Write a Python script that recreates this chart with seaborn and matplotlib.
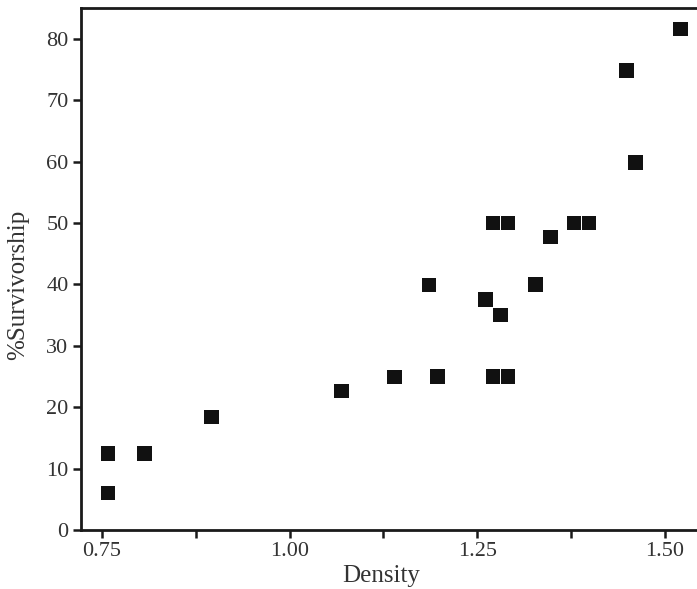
import numpy as np
import pandas as pd
import matplotlib
matplotlib.use("Agg")
import matplotlib.pyplot as plt
import seaborn as sns

# valores
densidade = [0.758, 0.758, 0.807, 0.896, 1.069, 1.140, 1.197, 1.186, 1.261, 1.281,
             1.271, 1.291, 1.271, 1.291, 1.328, 1.348, 1.379, 1.399, 1.449, 1.461, 1.521]
sobrevivencia = [12.5, 6.0, 12.5, 18.4, 22.6, 24.9, 25.0, 39.9, 37.5, 35.0,
                 25.0, 25.0, 50.0, 50.0, 40.0, 47.7, 50.0, 50.0, 74.8, 59.8, 81.6]
x_ticks = [0.75, 0.875, 1.00, 1.125, 1.25, 1.375, 1.50]
x_tick_labels = ["0.75", "", "1.00", "", "1.25", "", "1.50"]
y_ticks = [0, 10, 20, 30, 40, 50, 60, 70, 80]

df = pd.DataFrame({"Density": densidade, "%Survivorship": sobrevivencia})

sns.set_style("ticks")
plt.rcParams["font.family"] = ["Liberation Serif", "DejaVu Serif"]

fig = plt.figure(figsize=(6.97, 5.89), dpi=100)
ax = fig.add_axes([0.1162, 0.1002, 0.8838, 0.8862])

sns.scatterplot(data=df, x="Density", y="%Survivorship", ax=ax,
                marker="s", s=110, color="#111111", edgecolor="none")

ax.set_xlim(0.722, 1.543)
ax.set_ylim(0, 85)
ax.set_xticks(x_ticks)
ax.set_xticklabels(x_tick_labels)
ax.set_yticks(y_ticks)

for lado in ["left", "bottom", "top"]:
    ax.spines[lado].set_linewidth(2)
    ax.spines[lado].set_color("#1a1a1a")
ax.spines["right"].set_visible(False)

ax.tick_params(axis="both", direction="out", length=6, width=1.8,
               color="#1a1a1a", labelsize=16, labelcolor="#333333", pad=3)

ax.set_xlabel("Density", fontsize=18, color="#333333")
ax.set_ylabel("%Survivorship", fontsize=18, color="#333333")
ax.xaxis.set_label_coords(0.487, -0.068)
ax.yaxis.set_label_coords(-0.084, 0.469)

fig.savefig("out.png", dpi=100)
